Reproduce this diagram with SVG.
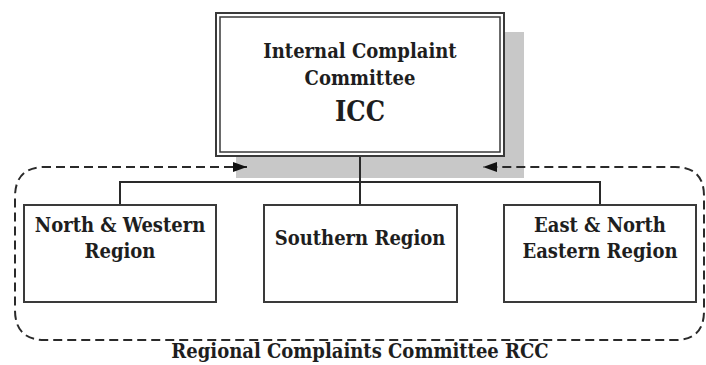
<svg xmlns="http://www.w3.org/2000/svg" width="706" height="365" viewBox="0 0 706 365">
<style>
  text { font-family: "DejaVu Serif Condensed", "DejaVu Serif", serif; font-weight: bold; fill: #1e1e1e; text-anchor: middle; }
  .t { font-size: 20px; }
  .big { font-size: 27px; }
  .box { fill: #fff; stroke: #3a3a3a; stroke-width: 2; }
  .ln { fill: none; stroke: #2a2a2a; stroke-width: 2; }
  .dash { fill: none; stroke: #2a2a2a; stroke-width: 2; stroke-dasharray: 9 5; }
</style>
<defs>
  <marker id="ah" viewBox="0 0 14 10" refX="14" refY="5" markerWidth="14" markerHeight="10" markerUnits="userSpaceOnUse" orient="auto">
    <path d="M0,0 L14,5 L0,10 z" fill="#111"/>
  </marker>
</defs>
<rect width="706" height="365" fill="#fff"/>
<g id="rcc">
  <rect x="236" y="32" width="288" height="146" fill="#c8c8c8"/>
  <path class="dash" d="M247,167 L45,167 Q15,167 15,197 L15,310 Q15,340 45,340 L675,340 Q704,340 704,311 L704,196 Q704,167 675,167 L483,167" marker-end="url(#ah)"/>
  <path class="dash" d="M228,167 L247,167" marker-end="url(#ah)"/>
  <text x="360" y="358" class="t">Regional Complaints Committee RCC</text>
</g>
<g id="connectors">
  <path class="ln" d="M360,156 L360,205 M120,205 L120,182 L600,182 L600,205"/>
</g>
<g id="icc">
  <rect x="216" y="13" width="288" height="143" fill="#fff" stroke="#3a3a3a" stroke-width="2"/>
  <rect x="220" y="17" width="280" height="135" fill="none" stroke="#3a3a3a" stroke-width="1.5"/>
  <text x="360" y="58" class="t">Internal Complaint</text>
  <text x="360" y="85" class="t">Committee</text>
  <text x="360" y="121" class="big">ICC</text>
</g>
<g id="north-western">
  <rect class="box" x="24" y="205" width="192" height="97"/>
  <text x="120" y="232" class="t">North &amp; Western</text>
  <text x="120" y="258" class="t">Region</text>
</g>
<g id="southern">
  <rect class="box" x="264" y="205" width="193" height="97"/>
  <text x="360" y="245" class="t">Southern Region</text>
</g>
<g id="east-north-eastern">
  <rect class="box" x="504" y="205" width="192" height="97"/>
  <text x="600" y="232" class="t">East &amp; North</text>
  <text x="600" y="258" class="t">Eastern Region</text>
</g>
</svg>
